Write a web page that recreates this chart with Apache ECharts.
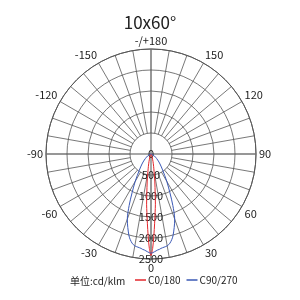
<!DOCTYPE html>
<html lang="zh">
<head>
    <meta charset="UTF-8">
    <title>10x60°</title>
    <script src="https://cdn.jsdelivr.net/npm/echarts@6/dist/echarts.min.js"></script>
    <style>
        html, body { margin: 0; padding: 0; background: #fff; }
        #chart { width: 300px; height: 300px; }
    </style>
</head>
<body>
    <div id="chart"></div>
    <script>
        // 光强分布 (cd/klm)，gamma 0~90°，左右对称
        var gammaAngles = [0, 1, 2, 3, 4, 5, 6, 8, 10, 12, 15, 20, 23, 26, 30, 36, 42, 48, 55, 60, 70, 80, 90];
        var c0Values = [2420, 2250, 1950, 1650, 1400, 1200, 950, 650, 420, 300, 180, 80, 50, 35, 22, 12, 8, 5, 3, 2, 1, 0, 0];
        var c90Values = [2360, 2350, 2330, 2310, 2290, 2280, 2260, 2240, 2220, 2170, 2020, 1650, 1330, 1030, 750, 470, 320, 215, 130, 90, 35, 10, 0];
        var radiusTicks = [0, 500, 1000, 1500, 2000, 2500];
        var seriesNames = ['C0/180', 'C90/270'];

        var cx = 151, cy = 154, R = 105;
        var rMax = radiusTicks[radiusTicks.length - 1];

        // 转成 [r, angle]，左半边用 360-θ
        function mirror(values) {
            var pts = [];
            for (var i = gammaAngles.length - 1; i >= 0; i--) {
                pts.push([values[i], 360 - gammaAngles[i]]);
            }
            for (var j = 0; j < gammaAngles.length; j++) {
                pts.push([values[j], gammaAngles[j]]);
            }
            return pts;
        }

        var myChart = echarts.init(document.getElementById('chart'));
        myChart.setOption({
            animation: false,
            title: [{
                text: '10x60°',
                left: 'center',
                top: 9,
                textStyle: { fontSize: 17, fontWeight: 'normal', color: '#222', fontFamily: 'Noto Sans CJK SC' }
            }, {
                text: '单位:cd/klm',
                left: 65,
                top: 271,
                textStyle: { fontSize: 10, fontWeight: 'normal', color: '#222', fontFamily: 'Noto Sans CJK SC' }
            }],
            legend: {
                left: 135,
                top: 275,
                padding: 0,
                icon: 'rect',
                itemWidth: 11,
                itemHeight: 1.5,
                itemGap: 6,
                textStyle: { fontSize: 10, color: '#222', fontFamily: 'Noto Sans CJK SC', padding: [0, 0, 0, -3] },
                data: seriesNames
            },
            polar: [
                { center: [cx, cy], radius: R },
                { center: [cx, cy], radius: R }
            ],
            angleAxis: [{
                polarIndex: 0,
                type: 'value',
                min: 0,
                max: 360,
                interval: 10,
                startAngle: 270,
                clockwise: false,
                z: 0,
                axisLine: { show: true, lineStyle: { color: '#555', width: 1 } },
                axisTick: { show: false },
                axisLabel: {
                    margin: 3,
                    color: '#222',
                    fontSize: 11,
                    fontFamily: 'Noto Sans CJK SC',
                    formatter: function (v) {
                        if (v % 30 !== 0) return '';
                        if (v === 180) return '-/+180';
                        return v > 180 ? String(v - 360) : String(v);
                    }
                },
                splitLine: { show: true, lineStyle: { color: '#555', width: 0.8 } }
            }, {
                polarIndex: 1,
                type: 'value',
                min: 0,
                max: 360,
                interval: 90,
                startAngle: 270,
                clockwise: false,
                z: 2,
                axisLine: { show: false },
                axisTick: { show: false },
                axisLabel: { show: false },
                splitLine: { show: true, lineStyle: { color: '#8c8c8c', width: 1.5 } }
            }],
            radiusAxis: [{
                polarIndex: 0,
                min: 0,
                max: rMax,
                axisLine: { show: false },
                axisTick: { show: false },
                axisLabel: { show: false },
                splitLine: { show: false }
            }, {
                polarIndex: 1,
                min: 0,
                max: rMax,
                interval: 500,
                z: 3,
                axisLine: { show: false },
                axisTick: { show: false },
                splitLine: { show: true, lineStyle: { color: '#555', width: 0.8 } },
                axisLabel: {
                    margin: 0,
                    align: 'center',
                    verticalAlign: 'middle',
                    padding: [0, 0, 7, 0],
                    color: '#222',
                    fontSize: 11,
                    fontFamily: 'Noto Sans CJK SC',
                    formatter: function (v) { return String(v); }
                }
            }],
            // 中心圆内不画放射线
            graphic: [{
                type: 'circle',
                z: 1,
                shape: { cx: cx, cy: cy, r: R * 500 / rMax },
                style: { fill: '#fff' }
            }],
            series: [{
                name: seriesNames[0],
                type: 'line',
                coordinateSystem: 'polar',
                polarIndex: 1,
                z: 5,
                smooth: 0.3,
                showSymbol: false,
                color: '#e3262b',
                lineStyle: { width: 1 },
                data: mirror(c0Values)
            }, {
                name: seriesNames[1],
                type: 'line',
                coordinateSystem: 'polar',
                polarIndex: 1,
                z: 5,
                smooth: 0.3,
                showSymbol: false,
                color: '#3a58b5',
                lineStyle: { width: 1 },
                data: mirror(c90Values)
            }]
        });
    </script>
</body>
</html>
